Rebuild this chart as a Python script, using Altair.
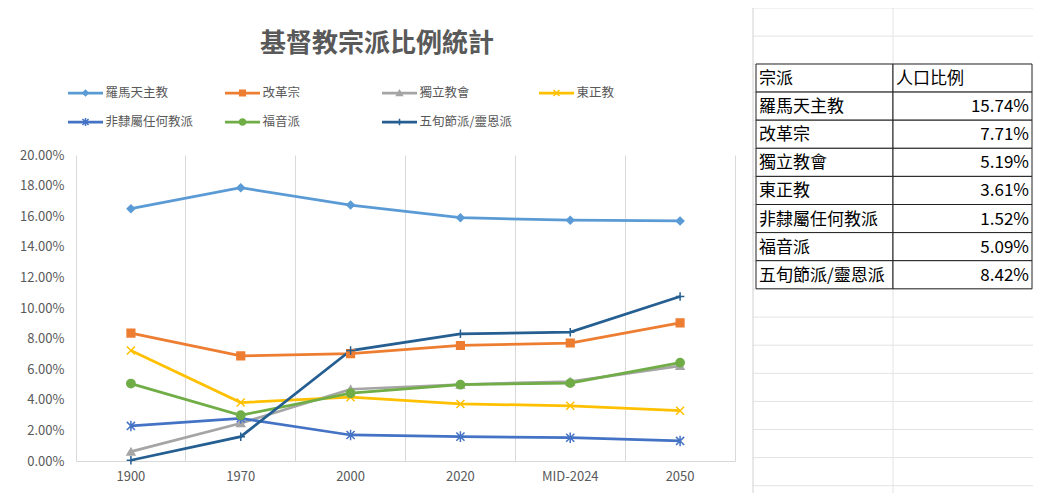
import altair as alt
import pandas as pd

# ---------------- data ----------------
title_text = "基督教宗派比例統計"
years = ["1900", "1970", "2000", "2020", "MID-2024", "2050"]
denominations = ["羅馬天主教", "改革宗", "獨立教會", "東正教", "非隸屬任何教派", "福音派", "五旬節派/靈恩派"]

roman_catholic = [0.1649, 0.1786, 0.1673, 0.1590, 0.1574, 0.1569]
reformed = [0.0836, 0.0687, 0.0702, 0.0755, 0.0771, 0.0903]
independent = [0.0061, 0.0247, 0.0469, 0.0500, 0.0519, 0.0622]
orthodox = [0.0722, 0.0382, 0.0417, 0.0373, 0.0361, 0.0329]
unaffiliated = [0.0229, 0.0279, 0.0170, 0.0159, 0.0152, 0.0131]
evangelical = [0.0506, 0.0299, 0.0443, 0.0499, 0.0509, 0.0643]
pentecostal = [0.0005, 0.0159, 0.0722, 0.0831, 0.0842, 0.1075]

table_header = ["宗派", "人口比例"]
table_year = "MID-2024"
y_ticks = [0.0, 0.02, 0.04, 0.06, 0.08, 0.10, 0.12, 0.14, 0.16, 0.18, 0.20]

# ---------------- styles ----------------
colors = ["#5B9BD5", "#ED7D31", "#A5A5A5", "#FFC000", "#4472C4", "#70AD47", "#255E91"]
shapes = [
    "diamond",
    "square",
    "triangle-up",
    "M-1,-1L1,1M-1,1L1,-1",
    "M-1,-1L1,1M-1,1L1,-1M0,-1.3L0,1.3",
    "circle",
    "M-1,0L1,0M0,-1L0,1",
]
marker_sizes = [56, 72, 80, 100, 64, 81, 100]
legend_marker_sizes = [30, 40, 44, 56, 36, 44, 56]
TEXT = "#595959"
GRID = "#D9D9D9"
SHEET = "#E3E3E3"
FONT = "Noto Sans CJK TC"

all_series = [roman_catholic, reformed, independent, orthodox, unaffiliated, evangelical, pentecostal]
rows = []
for s, vals in zip(denominations, all_series):
    for i, (yr, v) in enumerate(zip(years, vals)):
        rows.append({"series": s, "year": yr, "idx": i, "value": v})
df = pd.DataFrame(rows)

legend_df = pd.DataFrame(
    [{"series": s, "col": i % 4, "row": i // 4} for i, s in enumerate(denominations)]
)

color_scale = alt.Scale(domain=denominations, range=colors)
shape_scale = alt.Scale(domain=denominations, range=shapes)
size_scale = alt.Scale(domain=denominations, range=marker_sizes)
legend_size_scale = alt.Scale(domain=denominations, range=legend_marker_sizes)

# ---------------- plot ----------------
x_enc_lines = alt.X(
    "year:N",
    sort=years,
    bandPosition=0.5,
    scale=alt.Scale(type="band", paddingInner=0, paddingOuter=0),
    axis=alt.Axis(
        orient="bottom", title=None, labelAngle=0, ticks=False, grid=False,
        domainColor=GRID, domainWidth=1, labelFont=FONT, labelFontSize=13,
        labelColor=TEXT, labelPadding=9, bandPosition=0.5,
    ),
)
y_enc_lines = alt.Y(
    "value:Q",
    scale=alt.Scale(domain=[0, 0.2], nice=False, zero=True),
    axis=alt.Axis(
        orient="left", title=None, values=y_ticks, format=".2%", ticks=False,
        domain=False, grid=False, labelFont=FONT, labelFontSize=13,
        labelColor=TEXT, labelPadding=12,
    ),
)
lines = alt.Chart(df).mark_line(strokeWidth=2.75).encode(
    x=x_enc_lines,
    y=y_enc_lines,
    color=alt.Color("series:N", scale=color_scale, legend=None),
    order=alt.Order("idx:Q"),
)
points = alt.Chart(df).mark_point(filled=True, opacity=1, strokeWidth=1.5).encode(
    x=alt.X(
        "year:N", sort=years, bandPosition=0.5,
        scale=alt.Scale(type="band", paddingInner=0, paddingOuter=0),
        axis=alt.Axis(orient="top", title=None, labels=False, ticks=False,
                      domain=False, grid=True, gridColor=GRID, gridWidth=1,
                      bandPosition=0),
    ),
    y=alt.Y(
        "value:Q", scale=alt.Scale(domain=[0, 0.2], nice=False, zero=True),
        axis=alt.Axis(orient="right", title=None, labels=False, ticks=False,
                      grid=False, domain=True, domainColor=GRID, domainWidth=1),
    ),
    shape=alt.Shape("series:N", scale=shape_scale, legend=None),
    size=alt.Size("series:N", scale=size_scale, legend=None),
    fill=alt.Fill("series:N", scale=color_scale, legend=None),
    stroke=alt.Stroke("series:N", scale=color_scale, legend=None),
)
plot = alt.layer(lines, points).resolve_axis(x="independent", y="independent")

# ---------------- legend (custom, line + marker) ----------------
LX = alt.X("col:Q", scale=alt.Scale(domain=[0, 4], range=[9.5, 637.5], nice=False, zero=False), axis=None)
LY = alt.Y("row:Q", scale=alt.Scale(domain=[0, 1], range=[-62, -33], nice=False, zero=False), axis=None)
leg_line = alt.Chart(legend_df).mark_point(
    shape="M-1,0L1,0", size=1225, filled=False, opacity=1, strokeWidth=2.75
).encode(x=LX, y=LY, stroke=alt.Stroke("series:N", scale=color_scale, legend=None))
leg_mark = alt.Chart(legend_df).mark_point(filled=True, opacity=1, strokeWidth=1.5).encode(
    x=LX, y=LY,
    shape=alt.Shape("series:N", scale=shape_scale, legend=None),
    size=alt.Size("series:N", scale=legend_size_scale, legend=None),
    fill=alt.Fill("series:N", scale=color_scale, legend=None),
    stroke=alt.Stroke("series:N", scale=color_scale, legend=None),
)
leg_text = alt.Chart(legend_df).mark_text(
    align="left", baseline="middle", dx=20, font=FONT, fontSize=12.5, color=TEXT
).encode(x=LX, y=LY, text="series:N")
legend = alt.layer(leg_line, leg_mark, leg_text)

# ---------------- worksheet table + cells (page pixel layout) ----------------
PX = alt.Scale(domain=[0, 1041], range=[-76, 965], nice=False, zero=False)
PY = alt.Scale(domain=[0, 503], range=[-155, 348], nice=False, zero=False)
ROW_H = 28.1
TABLE_TOP = 64
TABLE_X = [756, 893, 1032]

sheet_h = pd.DataFrame({"y": [8 + ROW_H * k for k in range(18)], "x": 753, "x2": 1041})
sheet_v = pd.DataFrame({"x": [893, 1036], "y": 0, "y2": 503})
box_edge = pd.DataFrame({"x": [753], "y": [5], "y2": [497]})
title_df = pd.DataFrame({"x": [377], "y": [43.5], "t": [title_text]})

cells = []
texts_left = []
texts_right = []
mid = df[df["year"] == table_year].set_index("series")["value"]
table_rows = [table_header] + [[s, mid[s]] for s in denominations]
for r, (name, val) in enumerate(table_rows):
    y0 = TABLE_TOP + r * ROW_H
    for c in range(2):
        cells.append({"x": TABLE_X[c], "x2": TABLE_X[c + 1], "y": y0, "y2": y0 + ROW_H})
    texts_left.append({"x": TABLE_X[0] + 3, "y": y0 + ROW_H / 2, "t": name})
    if r == 0:
        texts_left.append({"x": TABLE_X[1] + 3, "y": y0 + ROW_H / 2, "t": val})
    else:
        texts_right.append({"x": TABLE_X[2] - 3, "y": y0 + ROW_H / 2, "v": val})

h_rules = alt.Chart(sheet_h).mark_rule(color=SHEET, strokeWidth=1).encode(
    x=alt.X("x:Q", scale=PX, axis=None), x2="x2:Q", y=alt.Y("y:Q", scale=PY, axis=None))
v_rules = alt.Chart(sheet_v).mark_rule(color=SHEET, strokeWidth=1).encode(
    x=alt.X("x:Q", scale=PX, axis=None), y=alt.Y("y:Q", scale=PY, axis=None), y2="y2:Q")
box_rule = alt.Chart(box_edge).mark_rule(color="#D0D0D0", strokeWidth=1).encode(
    x=alt.X("x:Q", scale=PX, axis=None), y=alt.Y("y:Q", scale=PY, axis=None), y2="y2:Q")
t_cells = alt.Chart(pd.DataFrame(cells)).mark_rect(fill="white", stroke="#222222", strokeWidth=1).encode(
    x=alt.X("x:Q", scale=PX, axis=None), x2="x2:Q",
    y=alt.Y("y:Q", scale=PY, axis=None), y2="y2:Q")
t_left = alt.Chart(pd.DataFrame(texts_left)).mark_text(
    align="left", baseline="middle", font=FONT, fontSize=17, color="#000000", dy=1
).encode(x=alt.X("x:Q", scale=PX, axis=None), y=alt.Y("y:Q", scale=PY, axis=None), text="t:N")
t_right = alt.Chart(pd.DataFrame(texts_right)).mark_text(
    align="right", baseline="middle", font=FONT, fontSize=17, color="#000000", dy=1
).encode(x=alt.X("x:Q", scale=PX, axis=None), y=alt.Y("y:Q", scale=PY, axis=None),
         text=alt.Text("v:Q", format=".2%"))
title_mark = alt.Chart(title_df).mark_text(
    align="center", baseline="middle", font=FONT, fontSize=26, fontWeight="bold", color=TEXT
).encode(x=alt.X("x:Q", scale=PX, axis=None), y=alt.Y("y:Q", scale=PY, axis=None), text="t:N")
sheet = alt.layer(h_rules, v_rules, box_rule, t_cells, t_left, t_right, title_mark)

chart = (
    alt.layer(sheet, legend, plot)
    .resolve_scale(x="independent", y="independent", size="independent")
    .properties(
        width=659,
        height=306,
        padding={"left": 68, "top": 147, "right": 298, "bottom": 32},
        autosize=alt.AutoSizeParams(type="none"),
    )
    .configure_view(stroke=None)
)

chart.save("out.html", embed_options={"renderer": "svg", "actions": False})
